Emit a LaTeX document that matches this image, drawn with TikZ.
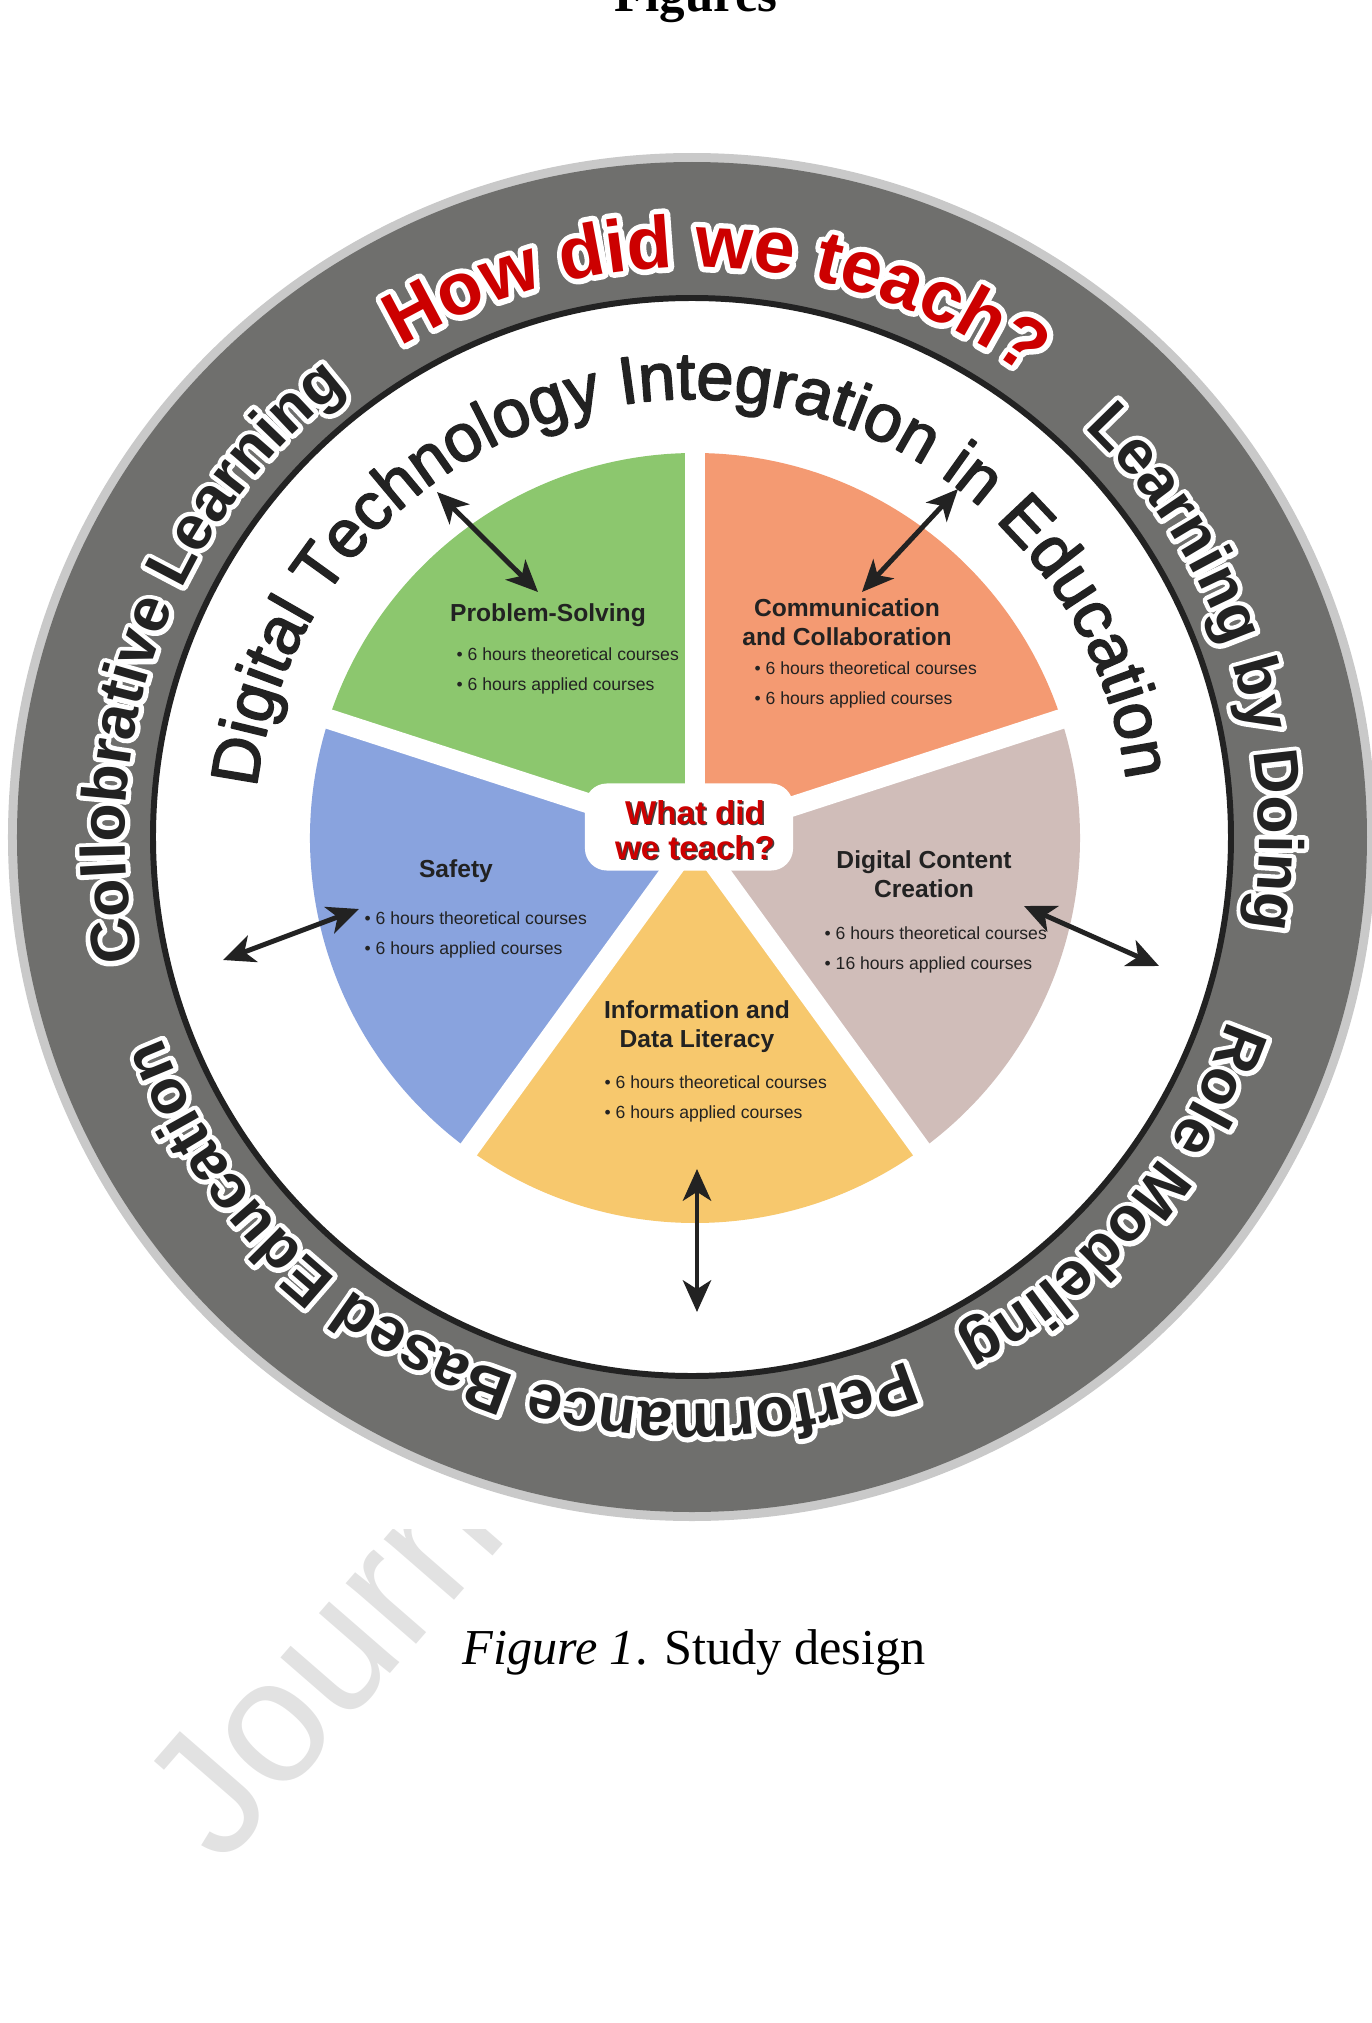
\documentclass[tikz,border=0pt]{standalone}
\usepackage{fontspec}
\usepackage{xcolor}
\usepackage{tikz}
\usetikzlibrary{arrows.meta}
\usetikzlibrary{decorations.text}
\setmainfont{Liberation Serif}
\newfontfamily\labelfont{Liberation Sans}
\newfontfamily\arcfont{Liberation Sans}[FakeBold=2.5]
\newfontfamily\ringfont{Liberation Sans Bold}
\newfontfamily\ringhalo{Liberation Sans Bold}[FakeBold=15]
\definecolor{rimgrey}{HTML}{C9C9C9}
\definecolor{ringgrey}{HTML}{6F6F6D}
\definecolor{inkblack}{HTML}{222222}
\definecolor{psgreen}{HTML}{8CC76E}
\definecolor{ccorange}{HTML}{F49A72}
\definecolor{dctaupe}{HTML}{D0BDB9}
\definecolor{idyellow}{HTML}{F7C86D}
\definecolor{sfblue}{HTML}{89A3DE}
\definecolor{teachred}{HTML}{CC0000}
\definecolor{wmgrey}{HTML}{E2E2E2}

\begin{document}
\begin{tikzpicture}[x=0.01cm, y=0.01cm, line join=round,
    >={Stealth[length=9pt,width=8pt,inset=2.5pt]},
    gapline/.style={white, line width=5.7pt},
    titletext/.style={text=inkblack, align=center, inner sep=0pt, font=\labelfont\bfseries\fontsize{7}{8.3}\selectfont},
    bullettext/.style={text=inkblack, align=left, anchor=west, inner sep=0pt, font=\labelfont\fontsize{5}{8.5}\selectfont},
    linkarrow/.style={<->, line width=1.4pt, inkblack},
    halo/.style={decorate, decoration={text along path, text align=center, text color=white, text={|\ringhalo\fontsize{17.8}{20}\selectfont|#1}}},
    ringlabel/.style={decorate, decoration={text along path, text align=center, text color=inkblack, text={|\ringfont\fontsize{17.8}{20}\selectfont|#1}}},
    redhalo/.style={decorate, decoration={text along path, text align=center, text color=white, text={|\ringhalo\fontsize{21}{23}\selectfont|#1}}},
    redlabel/.style={decorate, decoration={text along path, text align=center, text color=teachred, text={|\ringfont\fontsize{21}{23}\selectfont|#1}}},
    centertext/.style={align=center, inner sep=0pt, font=\labelfont\bfseries\fontsize{9.4}{9.9}\selectfont}]
  \useasboundingbox (-692,-1186) rectangle (680,837);

  \node [rotate=49, anchor=base west, text=wmgrey, font=\labelfont\fontsize{50}{60}\selectfont] (wm) at (-478,-1040) {Journal Pre-proof};
  \fill [white] (-692,-692) rectangle (680,837);

  \node [anchor=base] (head) at (4,825) {\fontsize{14.5}{17}\selectfont\bfseries Figures};
  \node [anchor=base] (caption) at (2,-827) {\fontsize{14.3}{17}\selectfont\textit{Figure 1}. Study design};

  \fill [rimgrey] (0,0) circle [radius=684];
  \fill [ringgrey] (0,0) circle [radius=675];
  \draw [inkblack, line width=1.7pt, fill=white] (0,0) circle [radius=539];

  \coordinate (pc) at (3,-1);
  \fill [psgreen] (pc) -- +(90:385) arc [start angle=90, end angle=162, radius=385] -- cycle;
  \fill [ccorange] (pc) -- +(18:385) arc [start angle=18, end angle=90, radius=385] -- cycle;
  \fill [dctaupe] (pc) -- +(-54:385) arc [start angle=-54, end angle=18, radius=385] -- cycle;
  \fill [idyellow] (pc) -- +(-126:385) arc [start angle=-126, end angle=-54, radius=385] -- cycle;
  \fill [sfblue] (pc) -- +(162:385) arc [start angle=162, end angle=234, radius=385] -- cycle;
  \foreach \a in {18,90,162,234,306}
    \draw [gapline] (pc) -- +(\a:400);
  \node [fill=white, rounded corners=0.22cm, minimum width=2.08cm, minimum height=0.87cm] (hub) at (-3,10) {};
  \node [centertext, text=black!75] (whatshade) at (4.5,5.5) {What did\\we teach?};
  \node [centertext, text=teachred] (what) at (3,7) {What did\\we teach?};

  \path [decorate, decoration={text along path, text align=center, text color=inkblack,
      text={|\arcfont\fontsize{19}{22}\selectfont|Digital Technology Integration in Education}}]
    (185.5:438) arc [start angle=185.5, end angle=-4.5, radius=438];

  \path [postaction={redhalo=How did we teach?}, postaction={redlabel=How did we teach?}]
    (137.3:570) arc [start angle=137.3, end angle=37.3, radius=570];
  \path [postaction={halo=Collobrative Learning}, postaction={ringlabel=Collobrative Learning}]
    (210:567) arc [start angle=210, end angle=110, radius=567];
  \path [postaction={halo=Learning by Doing}, postaction={ringlabel=Learning by Doing}]
    (63.5:567) arc [start angle=63.5, end angle=-26.5, radius=567];
  \path [postaction={halo=Role Modeling}, postaction={ringlabel=Role Modeling}]
    (-0.5:567) arc [start angle=-0.5, end angle=-80.5, radius=567];
  \path [postaction={halo=Performance Based Education}, postaction={ringlabel=Performance Based Education}]
    (-48.5:567) arc [start angle=-48.5, end angle=-178.5, radius=567];

  \node [titletext] (pstitle) at (-144,222) {Problem-Solving};
  \node [bullettext] (psbul) at (-236,166) {• 6 hours theoretical courses\\• 6 hours applied courses};
  \node [titletext] (cctitle) at (155,215) {Communication\\and Collaboration};
  \node [bullettext] (ccbul) at (62,152) {• 6 hours theoretical courses\\• 6 hours applied courses};
  \node [titletext] (sftitle) at (-236,-34) {Safety};
  \node [bullettext] (sfbul) at (-328,-98) {• 6 hours theoretical courses\\• 6 hours applied courses};
  \node [titletext] (dctitle) at (232,-37) {Digital Content\\Creation};
  \node [bullettext] (dcbul) at (132,-113) {• 6 hours theoretical courses\\• 16 hours applied courses};
  \node [titletext] (idtitle) at (5,-190) {Information and\\Data Literacy};
  \node [bullettext] (idbul) at (-88,-262) {• 6 hours theoretical courses\\• 6 hours applied courses};

  \coordinate (psin) at (-154,245);
  \coordinate (psout) at (-255,345);
  \coordinate (ccin) at (170,245);
  \coordinate (ccout) at (266,348);
  \coordinate (sfin) at (-333,-72);
  \coordinate (sfout) at (-469,-123);
  \coordinate (dcin) at (332,-69);
  \coordinate (dcout) at (467,-129);
  \coordinate (idin) at (5,-332);
  \coordinate (idout) at (5,-475);
  \draw [linkarrow] (psout) -- (psin);
  \draw [linkarrow] (ccout) -- (ccin);
  \draw [linkarrow] (sfout) -- (sfin);
  \draw [linkarrow] (dcout) -- (dcin);
  \draw [linkarrow] (idin) -- (idout);
\end{tikzpicture}
\end{document}
